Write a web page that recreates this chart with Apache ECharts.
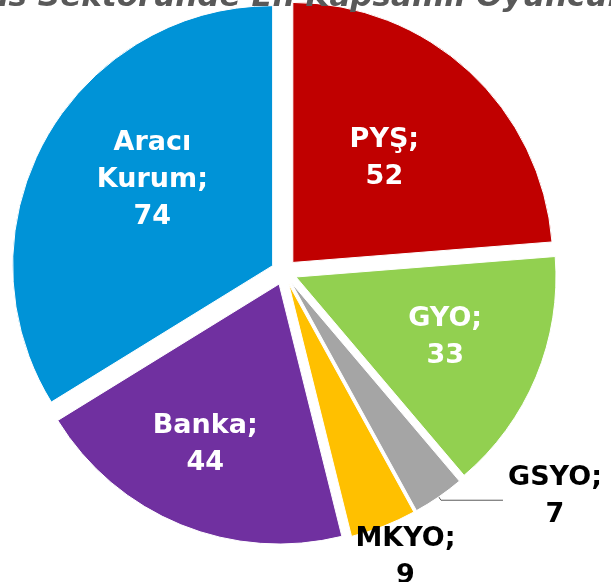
<!DOCTYPE html>
<html>
<head>
<meta charset="utf-8">
<script src="https://cdn.jsdelivr.net/npm/echarts@6/dist/echarts.min.js"></script>
<style>
    html, body { margin: 0; padding: 0; background: #fff; }
    #chart { width: 611px; height: 582px; }
</style>
</head>
<body>
<div id="chart"></div>
<script>
// clockwise from 12 o'clock
const categories = ['PYŞ', 'GYO', 'GSYO', 'MKYO', 'Banka', 'Aracı Kurum'];
const values = [52, 33, 7, 9, 44, 74];
const colors = ['#C00000', '#92D050', '#A5A5A5', '#FFC000', '#7030A0', '#0093D7'];
const titleText = 'Finans Sektöründe En Kapsamlı Oyuncular';

const R = 260;
// how far out the inside labels sit (fraction of radius) + small nudges
const labelDepth = { 'PYŞ': 0.53, 'GYO': 0.61, 'Banka': 0.68, 'Aracı Kurum': 0.58 };
const labelNudge = { 'PYŞ': [-4, -1], 'GYO': [0, -2], 'Banka': [-6, -6], 'Aracı Kurum': [14, -11] };
const total = values.reduce((a, b) => a + b, 0);

function midAngle(i) {
    let s = 0;
    for (let j = 0; j < i; j++) s += values[j];
    return (s + values[i] / 2) / total * 2 * Math.PI;
}

const chart = echarts.init(document.getElementById('chart'));
chart.setOption({
    animation: false,
    title: {
        text: titleText,
        left: 278,
        textAlign: 'center',
        top: -23,
        textStyle: {
            fontFamily: 'DejaVu Sans',
            fontSize: 31,
            fontWeight: 'bold',
            fontStyle: 'italic',
            color: '#595959'
        }
    },
    series: [{
        type: 'pie',
        center: [284, 272],
        radius: R,
        startAngle: 90,
        clockwise: true,
        selectedMode: 'multiple',
        selectedOffset: 13,
        avoidLabelOverlap: false,
        emphasis: { scale: false },
        itemStyle: { borderColor: '#fff', borderWidth: 1 },
        label: {
            show: true,
            position: 'inside',
            formatter: (p) => p.name.replace(' ', '\n') + ';\n' + p.value,
            color: '#fff',
            fontFamily: 'DejaVu Sans',
            fontWeight: 'bold',
            fontSize: 27,
            lineHeight: 37
        },
        labelLine: { show: false },
        labelLayout: function (p) {
            const name = categories[p.dataIndex];
            const a = midAngle(p.dataIndex);
            if (name === 'GSYO') {
                return { align: 'center', dx: p.labelRect.width / 2, dy: -4 };
            }
            if (name === 'MKYO') {
                return { align: 'center', verticalAlign: 'top', dx: 17, dy: -6 };
            }
            const k = labelDepth[name] - 0.5;
            const n = labelNudge[name];
            return { dx: Math.sin(a) * k * R + n[0], dy: -Math.cos(a) * k * R + n[1] };
        },
        data: categories.map((n, i) => {
            const item = {
                name: n,
                value: values[i],
                selected: true,
                itemStyle: { color: colors[i] }
            };
            if (n === 'GSYO') {
                item.label = { position: 'outside', color: '#000' };
                item.labelLine = { show: true, length: 4, length2: 62, lineStyle: { color: '#595959', width: 1 } };
            }
            if (n === 'MKYO') {
                item.label = { position: 'outside', color: '#000' };
                item.labelLine = { show: false, length: 0, length2: 0 };
            }
            return item;
        })
    }]
});
</script>
</body>
</html>
